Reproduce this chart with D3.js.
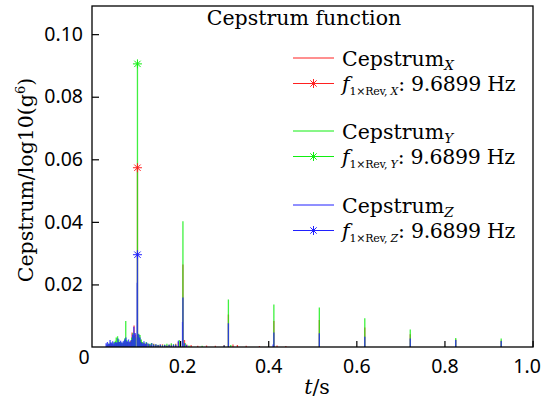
<!DOCTYPE html>
<html>
<head>
<meta charset="utf-8">
<script src="https://cdn.jsdelivr.net/npm/d3@7/dist/d3.min.js"></script>
<style>
body{margin:0;background:#fff;}
text{fill:#000;}
</style>
</head>
<body>
<div id="chart"></div>
<script>
// rahmonic positions (1/9.6899 Hz multiples) and peak heights
let rahmonicT=[0.1032,0.2064,0.3096,0.4128,0.5160,0.6192,0.7224,0.8256,0.9288];
let peakX=[0.0573,0.0264,0.0104,0.0083,0.0086,0.0062,0.0041,0.0024,0.0021];
let peakY=[0.0905,0.0402,0.0152,0.0136,0.0126,0.0092,0.0056,0.0029,0.0027];
let peakZ=[0.0295,0.0158,0.0076,0.0046,0.0044,0.0033,0.0027,0.0022,0.0019];

// low level floor between 0.03 s and 0.2 s
let noiseX=[[0.036,0.0006],[0.040,0.0009],[0.044,0.0010],[0.048,0.0007],[0.052,0.0008],[0.056,0.0012],[0.060,0.0014],[0.064,0.0010],[0.068,0.0009],[0.072,0.0012],[0.076,0.0011],[0.080,0.0015],[0.084,0.0013],[0.088,0.0020],[0.091,0.0046],[0.0955,0.0069],[0.099,0.0040],[0.107,0.0030],[0.110,0.0022],[0.113,0.0016],[0.117,0.0012],[0.121,0.0010],[0.125,0.0011],[0.130,0.0008],[0.135,0.0009],[0.140,0.0010],[0.145,0.0007],[0.150,0.0006],[0.155,0.0008],[0.160,0.0009],[0.165,0.0006],[0.170,0.0005],[0.175,0.0007],[0.180,0.0008],[0.185,0.0006],[0.190,0.0010],[0.196,0.0016],[0.200,0.0018],[0.210,0.0022],[0.215,0.0008],[0.225,0.0006],[0.240,0.0004],[0.260,0.0005],[0.280,0.0004],[0.300,0.0006],[0.320,0.0008],[0.330,0.0006],[0.350,0.0004],[0.380,0.0003],[0.420,0.0005],[0.440,0.0003]];
let noiseY=[[0.034,0.0008],[0.038,0.0011],[0.042,0.0014],[0.046,0.0010],[0.050,0.0016],[0.053,0.0020],[0.055,0.0030],[0.058,0.0034],[0.061,0.0024],[0.064,0.0016],[0.067,0.0014],[0.070,0.0012],[0.073,0.0020],[0.0745,0.0028],[0.0766,0.0083],[0.079,0.0022],[0.082,0.0016],[0.086,0.0018],[0.090,0.0030],[0.093,0.0045],[0.096,0.0036],[0.099,0.0030],[0.106,0.0042],[0.109,0.0038],[0.112,0.0024],[0.115,0.0016],[0.119,0.0012],[0.123,0.0016],[0.127,0.0011],[0.131,0.0010],[0.135,0.0013],[0.140,0.0009],[0.145,0.0008],[0.150,0.0007],[0.155,0.0006],[0.160,0.0006],[0.165,0.0008],[0.170,0.0010],[0.175,0.0007],[0.180,0.0012],[0.185,0.0009],[0.190,0.0008],[0.198,0.0022],[0.212,0.0012],[0.220,0.0005],[0.250,0.0004],[0.300,0.0005],[0.315,0.0006]];
let noiseZ=[[0.032,0.0012],[0.035,0.0016],[0.038,0.0010],[0.041,0.0022],[0.044,0.0014],[0.047,0.0018],[0.050,0.0012],[0.053,0.0016],[0.056,0.0014],[0.059,0.0027],[0.062,0.0016],[0.065,0.0020],[0.068,0.0014],[0.071,0.0018],[0.074,0.0024],[0.077,0.0030],[0.080,0.0018],[0.083,0.0024],[0.086,0.0016],[0.089,0.0022],[0.092,0.0040],[0.095,0.0065],[0.098,0.0045],[0.1025,0.0205],[0.106,0.0040],[0.109,0.0030],[0.112,0.0015],[0.115,0.0012],[0.118,0.0018],[0.121,0.0010],[0.124,0.0014],[0.128,0.0010],[0.132,0.0008],[0.136,0.0012],[0.140,0.0007],[0.145,0.0009],[0.150,0.0006],[0.155,0.0008],[0.160,0.0005],[0.165,0.0006],[0.170,0.0004],[0.175,0.0007],[0.180,0.0005],[0.185,0.0008],[0.190,0.0006],[0.196,0.0020],[0.2055,0.0080],[0.210,0.0012],[0.215,0.0006],[0.300,0.0005],[0.411,0.0008]];

let xTicks=[0.2,0.4,0.6,0.8,1.0];
let yTicks=[0.02,0.04,0.06,0.08,0.10];
let seriesNames=["X","Y","Z"];
let seriesColors=["#ff2020","#10ee10","#2020ff"];
let f1Text="9.6899 Hz";

let width=541, height=403;
let margin={left:92,top:6,right:8,bottom:56};
let svg=d3.select("#chart").append("svg")
  .attr("width",width).attr("height",height);

let x=d3.scaleLinear().domain([0,1.001]).range([margin.left,width-margin.right]);
let y=d3.scaleLinear().domain([0,0.109]).range([height-margin.bottom,margin.top]);

let sans="Noto Sans";
let serif="DejaVu Serif";
let fs=20.5;

// series as stems
let all=[
  noiseX.concat(rahmonicT.map((t,i)=>[t,peakX[i]])),
  noiseY.concat(rahmonicT.map((t,i)=>[t,peakY[i]])),
  noiseZ.concat(rahmonicT.map((t,i)=>[t,peakZ[i]]))
];
all.forEach(function(pts,k){
  svg.append("path")
    .attr("d",pts.map(p=>"M"+x(p[0])+","+y(0)+"V"+y(p[1])).join(""))
    .attr("stroke",seriesColors[k])
    .attr("stroke-opacity",0.8)
    .attr("stroke-width",1.3)
    .attr("fill","none");
});

// asterisk markers at the 1x rev rahmonic
function star(g,cx,cy,color){
  let r=4.5;
  for(let a=0;a<4;a++){
    let ang=a*Math.PI/4;
    g.append("line")
      .attr("x1",cx-r*Math.cos(ang)).attr("y1",cy-r*Math.sin(ang))
      .attr("x2",cx+r*Math.cos(ang)).attr("y2",cy+r*Math.sin(ang))
      .attr("stroke",color).attr("stroke-width",1);
  }
}
let mk=svg.append("g");
[peakX[0],peakY[0],peakZ[0]].forEach(function(v,k){
  star(mk,x(rahmonicT[0]),y(v),seriesColors[k]);
});

// axes
let xAxis=d3.axisBottom(x).tickValues(xTicks).tickFormat(d3.format(".1f")).tickSizeInner(-6).tickSizeOuter(0).tickPadding(12);
let yAxis=d3.axisLeft(y).tickValues(yTicks).tickFormat(d3.format(".2f")).tickSizeInner(-7).tickSizeOuter(0).tickPadding(9);

let gx=svg.append("g").attr("transform","translate(0,"+(height-margin.bottom)+")").call(xAxis);
let gy=svg.append("g").attr("transform","translate("+margin.left+",0)").call(yAxis);
[gx,gy].forEach(function(g){
  g.select(".domain").remove();
  g.selectAll("text").attr("font-family",sans).attr("font-size",19.5).attr("fill","#000");
  g.selectAll("line").attr("stroke","#000").attr("stroke-width",1.2);
});
// last x label sits a bit inside the frame, as in the picture
gx.selectAll(".tick text").filter(d=>d===1).attr("dx",-6);
gx.selectAll(".tick text").filter(d=>d===0.2).attr("dx",2);

svg.append("text").text("0")
  .attr("x",margin.left-8).attr("y",height-margin.bottom+17)
  .attr("text-anchor","middle")
  .attr("font-family",sans).attr("font-size",19.5);

svg.append("rect")
  .attr("x",margin.left).attr("y",margin.top)
  .attr("width",width-margin.right-margin.left)
  .attr("height",height-margin.bottom-margin.top)
  .attr("fill","none").attr("stroke","#000").attr("stroke-width",1.3);

// title and axis labels
svg.append("text").text("Cepstrum function")
  .attr("x",304).attr("y",25).attr("text-anchor","middle")
  .attr("font-family",serif).attr("font-size",fs);

let xl=svg.append("text").attr("x",317).attr("y",394).attr("text-anchor","middle")
  .attr("font-family",serif).attr("font-size",fs);
xl.append("tspan").attr("font-style","italic").text("t");
xl.append("tspan").text("/s");

let yl=svg.append("text").attr("transform","translate(33,180) rotate(-90)")
  .attr("text-anchor","middle").attr("font-family",serif).attr("font-size",fs);
yl.append("tspan").text("Cepstrum/log10(g");
yl.append("tspan").attr("font-size",13).attr("dy",-8).text("6");
yl.append("tspan").attr("dy",8).text(")");

// legend
let legRows=[58,131,205];
let lg=svg.append("g").attr("font-family",serif).attr("font-size",fs);
seriesNames.forEach(function(n,k){
  let y0=legRows[k], y1=y0+25.5;
  lg.append("line").attr("x1",293).attr("x2",334).attr("y1",y0).attr("y2",y0)
    .attr("stroke",seriesColors[k]).attr("stroke-width",1);
  let t1=lg.append("text").attr("x",342).attr("y",y0+8);
  t1.append("tspan").text("Cepstrum");
  t1.append("tspan").attr("font-size",13.5).attr("font-style","italic").attr("dy",4).text(n);

  lg.append("line").attr("x1",293).attr("x2",334).attr("y1",y1).attr("y2",y1)
    .attr("stroke",seriesColors[k]).attr("stroke-width",1);
  star(lg,313.5,y1,seriesColors[k]);
  let t2=lg.append("text").attr("x",342).attr("y",y1+7);
  t2.append("tspan").attr("font-style","italic").text("f");
  t2.append("tspan").attr("font-size",11).attr("dy",4).attr("letter-spacing",-0.3).text("1×Rev, ");
  t2.append("tspan").attr("font-size",11).attr("font-style","italic").text(n);
  t2.append("tspan").attr("dy",-4).attr("letter-spacing",-0.3).text(": "+f1Text);
});
</script>
</body>
</html>
